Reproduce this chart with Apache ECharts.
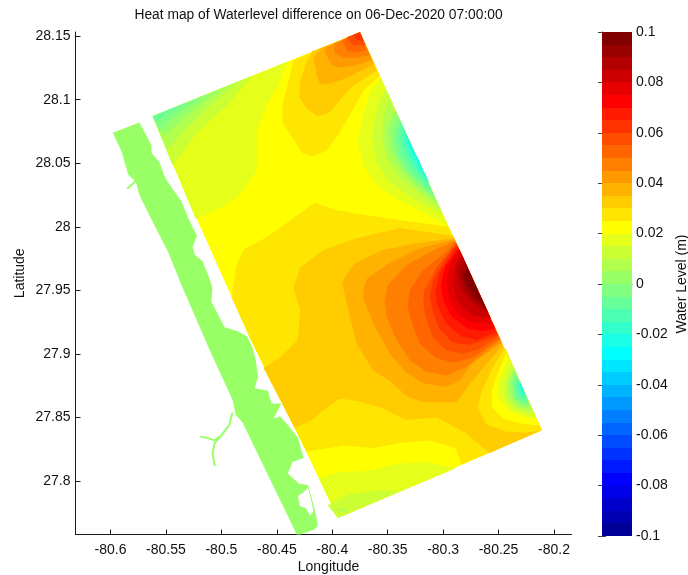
<!DOCTYPE html>
<html>
<head>
<meta charset="utf-8">
<style>html,body{margin:0;padding:0;background:#fff}#c{width:688px;height:575px}</style>
<script src="https://cdn.jsdelivr.net/npm/echarts@6/dist/echarts.min.js"></script>
</head>
<body>
<div id="c"></div>
<script>
// ---------- tick labels ----------
const lonTicks = [-80.6,-80.55,-80.5,-80.45,-80.4,-80.35,-80.3,-80.25,-80.2];
const latTicks = [27.8,27.85,27.9,27.95,28,28.05,28.1,28.15];
const barTicks = [-0.1,-0.08,-0.06,-0.04,-0.02,0,0.02,0.04,0.06,0.08,0.1];

// ---------- colour scale: one colour per 0.005 m band, from -0.1 upward ----------
const bandColors = ['#000099','#0000b3','#0000cc','#0000e6','#0000ff','#001aff','#0033ff','#004dff','#0066ff','#0080ff',
 '#0099ff','#00b3ff','#00ccff','#00e6ff','#00ffff','#1affe6','#33ffcc','#4dffb3','#66ff99','#80ff80',
 '#99ff66','#b3ff4d','#ccff33','#e6ff1a','#ffff00','#ffe600','#ffcc00','#ffb300','#ff9900','#ff8000',
 '#ff6600','#ff4d00','#ff3300','#ff1a00','#ff0000','#e60000','#cc0000','#b30000','#990000','#800000'];
const bandStarts = bandColors.map((c, i) => -0.1 + i * 0.005);

// ---------- water level regions: [band floor in m, [lon,lat]...] ----------
const domain = [
 [0.02, [[-80.562,28.087],[-80.375,28.153],[-80.211,27.840],[-80.395,27.771],[-80.423,27.822],[-80.474,27.912],[-80.519,28.000]]]
];
const coolNorthWest = [
 [0.015, [[-80.562,28.087],[-80.440,28.130],[-80.449,28.111],[-80.459,28.096],[-80.467,28.078],[-80.467,28.046],[-80.483,28.025],[-80.501,28.015],[-80.523,28.006]]],
 [0.01,  [[-80.562,28.087],[-80.472,28.119],[-80.493,28.097],[-80.522,28.074],[-80.544,28.048]]],
 [0.005, [[-80.562,28.087],[-80.483,28.115],[-80.504,28.100],[-80.531,28.078],[-80.549,28.060]]],
 [0,     [[-80.562,28.087],[-80.498,28.109],[-80.519,28.096],[-80.540,28.080],[-80.553,28.071]]],
 [-0.005,[[-80.562,28.087],[-80.513,28.104],[-80.531,28.094],[-80.549,28.082],[-80.556,28.076]]],
 [-0.01, [[-80.562,28.087],[-80.531,28.098],[-80.549,28.089],[-80.559,28.083]]]
];
const warmNorth = [
 [0.025,[[-80.375,28.153],[-80.435,28.131],[-80.438,28.119],[-80.445,28.096],[-80.445,28.082],[-80.436,28.070],[-80.427,28.058],[-80.418,28.055],[-80.405,28.060],[-80.395,28.072],[-80.384,28.088],[-80.372,28.107],[-80.357,28.119]]],
 [0.03, [[-80.375,28.153],[-80.418,28.138],[-80.423,28.130],[-80.429,28.114],[-80.430,28.102],[-80.423,28.093],[-80.413,28.087],[-80.402,28.090],[-80.393,28.100],[-80.381,28.111],[-80.360,28.123]]],
 [0.035,[[-80.375,28.153],[-80.410,28.140],[-80.417,28.133],[-80.414,28.119],[-80.411,28.112],[-80.400,28.113],[-80.384,28.118],[-80.369,28.125],[-80.362,28.128]]],
 [0.04, [[-80.375,28.153],[-80.406,28.141],[-80.407,28.137],[-80.400,28.127],[-80.393,28.125],[-80.378,28.127],[-80.364,28.131]]],
 [0.045,[[-80.375,28.153],[-80.398,28.144],[-80.398,28.137],[-80.390,28.133],[-80.378,28.133],[-80.366,28.135]]],
 [0.05, [[-80.375,28.153],[-80.391,28.147],[-80.387,28.139],[-80.378,28.137],[-80.369,28.139]]],
 [0.055,[[-80.375,28.153],[-80.387,28.149],[-80.382,28.143],[-80.370,28.143]]],
 [0.06, [[-80.375,28.153],[-80.381,28.151],[-80.378,28.147],[-80.372,28.146]]]
];
const coolEast = [
 [0.015, [[-80.356,28.117],[-80.366,28.106],[-80.373,28.085],[-80.377,28.067],[-80.372,28.048],[-80.360,28.033],[-80.342,28.022],[-80.318,28.011],[-80.296,28.001]]],
 [0.01,  [[-80.352,28.109],[-80.360,28.093],[-80.364,28.070],[-80.360,28.051],[-80.348,28.035],[-80.327,28.022],[-80.300,28.009]]],
 [0.005, [[-80.349,28.101],[-80.354,28.085],[-80.355,28.070],[-80.351,28.054],[-80.339,28.039],[-80.321,28.026],[-80.302,28.013]]],
 [0,     [[-80.343,28.092],[-80.350,28.078],[-80.349,28.062],[-80.339,28.046],[-80.321,28.030],[-80.305,28.019]]],
 [-0.005,[[-80.341,28.088],[-80.346,28.072],[-80.343,28.058],[-80.334,28.044],[-80.320,28.032],[-80.307,28.022]]],
 [-0.01, [[-80.339,28.084],[-80.342,28.070],[-80.339,28.058],[-80.330,28.044],[-80.319,28.035],[-80.309,28.025]]],
 [-0.015,[[-80.337,28.080],[-80.338,28.070],[-80.334,28.058],[-80.326,28.046],[-80.317,28.036],[-80.311,28.030]]],
 [-0.02, [[-80.335,28.076],[-80.334,28.067],[-80.330,28.057],[-80.323,28.046],[-80.312,28.034]]],
 [-0.025,[[-80.333,28.072],[-80.331,28.064],[-80.326,28.056],[-80.320,28.047],[-80.315,28.038]]],
 [-0.03, [[-80.331,28.068],[-80.327,28.060],[-80.322,28.053],[-80.317,28.042]]]
];
const warmCentre = [
 [0.025,[[-80.491,27.945],[-80.486,27.971],[-80.480,27.982],[-80.459,27.992],[-80.438,28.005],[-80.416,28.019],[-80.396,28.013],[-80.369,28.009],[-80.336,28.005],[-80.295,28.000],[-80.211,27.840],[-80.283,27.813],[-80.289,27.826],[-80.312,27.832],[-80.339,27.830],[-80.363,27.826],[-80.390,27.828],[-80.423,27.823],[-80.474,27.912]]],
 [0.03, [[-80.462,27.889],[-80.447,27.897],[-80.431,27.911],[-80.429,27.934],[-80.435,27.952],[-80.429,27.968],[-80.408,27.982],[-80.378,27.991],[-80.339,27.999],[-80.291,27.993],[-80.211,27.840],[-80.258,27.822],[-80.280,27.838],[-80.306,27.850],[-80.333,27.848],[-80.357,27.858],[-80.378,27.863],[-80.393,27.865],[-80.408,27.856],[-80.418,27.848],[-80.434,27.842]]],
 [0.035,[[-80.290,27.991],[-80.324,27.987],[-80.354,27.982],[-80.380,27.971],[-80.387,27.963],[-80.391,27.956],[-80.387,27.940],[-80.378,27.908],[-80.363,27.887],[-80.348,27.879],[-80.333,27.867],[-80.318,27.862],[-80.288,27.862],[-80.278,27.874],[-80.262,27.891],[-80.246,27.907]]],
 [0.04, [[-80.290,27.990],[-80.321,27.983],[-80.348,27.972],[-80.369,27.959],[-80.372,27.950],[-80.372,27.944],[-80.363,27.924],[-80.348,27.900],[-80.333,27.885],[-80.318,27.877],[-80.297,27.874],[-80.285,27.879],[-80.273,27.893],[-80.247,27.909]]],
 [0.045,[[-80.289,27.989],[-80.312,27.980],[-80.333,27.970],[-80.350,27.954],[-80.353,27.941],[-80.351,27.929],[-80.342,27.911],[-80.330,27.895],[-80.315,27.886],[-80.297,27.883],[-80.279,27.890],[-80.248,27.911]]],
 [0.05, [[-80.289,27.988],[-80.303,27.976],[-80.318,27.966],[-80.330,27.950],[-80.332,27.937],[-80.328,27.924],[-80.321,27.908],[-80.307,27.897],[-80.291,27.893],[-80.273,27.897],[-80.249,27.912]]],
 [0.055,[[-80.288,27.987],[-80.306,27.968],[-80.317,27.950],[-80.318,27.940],[-80.316,27.929],[-80.309,27.913],[-80.297,27.903],[-80.282,27.900],[-80.267,27.904],[-80.250,27.914]]],
 [0.06, [[-80.288,27.986],[-80.300,27.972],[-80.309,27.958],[-80.312,27.945],[-80.309,27.932],[-80.303,27.919],[-80.291,27.909],[-80.276,27.907],[-80.251,27.915]]],
 [0.065,[[-80.287,27.985],[-80.303,27.964],[-80.307,27.950],[-80.305,27.937],[-80.297,27.924],[-80.284,27.914],[-80.270,27.911],[-80.252,27.917]]],
 [0.07, [[-80.286,27.983],[-80.298,27.969],[-80.302,27.954],[-80.300,27.942],[-80.292,27.929],[-80.278,27.920],[-80.265,27.918],[-80.253,27.920]]],
 [0.075,[[-80.285,27.982],[-80.294,27.970],[-80.297,27.956],[-80.294,27.942],[-80.287,27.932],[-80.276,27.925],[-80.256,27.924]]],
 [0.08, [[-80.284,27.980],[-80.289,27.970],[-80.291,27.956],[-80.288,27.945],[-80.282,27.936],[-80.273,27.930],[-80.257,27.928]]],
 [0.085,[[-80.282,27.976],[-80.287,27.966],[-80.285,27.954],[-80.279,27.945],[-80.271,27.938],[-80.259,27.932]]],
 [0.09, [[-80.280,27.972],[-80.284,27.964],[-80.281,27.954],[-80.275,27.945],[-80.261,27.935]]],
 [0.095,[[-80.278,27.967],[-80.281,27.962],[-80.278,27.954],[-80.271,27.946],[-80.262,27.937]]]
];
const patchSouthEast = [
 [0.025,[[-80.244,27.905],[-80.255,27.890],[-80.265,27.871],[-80.269,27.858],[-80.261,27.845],[-80.244,27.839],[-80.226,27.838],[-80.211,27.840]]],
 [0.02, [[-80.243,27.901],[-80.252,27.882],[-80.256,27.871],[-80.256,27.858],[-80.246,27.849],[-80.228,27.845],[-80.213,27.844]]],
 [0.015,[[-80.241,27.898],[-80.251,27.877],[-80.251,27.866],[-80.242,27.856],[-80.226,27.850],[-80.216,27.849]]],
 [0.01, [[-80.239,27.893],[-80.245,27.877],[-80.245,27.866],[-80.238,27.857],[-80.225,27.853],[-80.217,27.852]]],
 [0.005,[[-80.237,27.890],[-80.243,27.877],[-80.242,27.866],[-80.233,27.857],[-80.219,27.855]]],
 [0,    [[-80.236,27.888],[-80.240,27.877],[-80.239,27.866],[-80.230,27.858],[-80.221,27.858]]],
 [-0.005,[[-80.235,27.886],[-80.238,27.877],[-80.236,27.866],[-80.228,27.860],[-80.222,27.860]]],
 [-0.01,[[-80.234,27.883],[-80.236,27.877],[-80.233,27.866],[-80.226,27.861],[-80.223,27.861]]],
 [-0.015,[[-80.233,27.881],[-80.234,27.875],[-80.231,27.866],[-80.224,27.865]]],
 [-0.02,[[-80.231,27.879],[-80.232,27.874],[-80.229,27.869],[-80.225,27.867]]],
 [-0.025,[[-80.230,27.877],[-80.230,27.873],[-80.227,27.871]]]
];
const coolSouth = [
 [0.015,[[-80.395,27.771],[-80.412,27.802],[-80.396,27.807],[-80.369,27.808],[-80.339,27.814],[-80.312,27.815],[-80.289,27.810]]],
 [0.01, [[-80.395,27.771],[-80.404,27.781],[-80.384,27.790],[-80.354,27.793],[-80.339,27.792]]],
 [0.005,[[-80.399,27.778],[-80.389,27.779],[-80.385,27.775]]]
];
// ---------- land ----------
const landColor = '#99ff66';
const landOutline = [[-80.598,28.074],[-80.574,28.082],[-80.569,28.074],[-80.563,28.064],[-80.563,28.058],[-80.556,28.051],[-80.551,28.039],[-80.545,28.031],[-80.536,28.020],[-80.530,28.007],[-80.522,27.993],[-80.526,27.984],[-80.524,27.978],[-80.517,27.973],[-80.512,27.962],[-80.508,27.952],[-80.509,27.941],[-80.503,27.931],[-80.497,27.921],[-80.486,27.918],[-80.477,27.914],[-80.472,27.905],[-80.469,27.895],[-80.467,27.882],[-80.470,27.873],[-80.458,27.871],[-80.455,27.861],[-80.446,27.861],[-80.453,27.849],[-80.447,27.851],[-80.438,27.842],[-80.431,27.834],[-80.427,27.822],[-80.426,27.818],[-80.436,27.815],[-80.440,27.806],[-80.430,27.798],[-80.422,27.797],[-80.418,27.785],[-80.415,27.775],[-80.413,27.765],[-80.416,27.762],[-80.429,27.758],[-80.432,27.758],[-80.481,27.846],[-80.487,27.852],[-80.490,27.864],[-80.509,27.900],[-80.535,27.952],[-80.548,27.980],[-80.565,28.009],[-80.574,28.025],[-80.577,28.035],[-80.584,28.041],[-80.590,28.059]];
const lagoon = [[-80.431,27.788],[-80.426,27.791],[-80.422,27.795],[-80.419,27.785],[-80.417,27.776],[-80.420,27.773],[-80.424,27.779],[-80.429,27.780]];
const creek = [[-80.585,28.030],[-80.577,28.036]];
const riverWest = [[-80.490,27.854],[-80.493,27.844],[-80.500,27.836],[-80.506,27.832],[-80.513,27.834],[-80.519,27.835]];
const riverSouth = [[-80.500,27.836],[-80.506,27.830],[-80.508,27.822],[-80.506,27.812]];

const regions = [].concat(domain, coolNorthWest, warmNorth, coolEast, warmCentre, patchSouthEast, coolSouth);
const bandColor = v => bandColors[Math.round((v + 0.1) / 0.005)];

const lineDark = '#1a1a1a';
const font = '"Liberation Sans", Arial, sans-serif';
const drawPolygon = (pts, fill) => (params, api) => ({
  type: 'polygon',
  shape: { points: pts.map(p => api.coord(p)) },
  style: { fill: fill }
});
const riverSeries = d => ({
  type: 'line', xAxisIndex: 0, yAxisIndex: 0, data: d, symbol: 'none', silent: true,
  lineStyle: { color: landColor, width: 2 }, z: 3
});

const chart = echarts.init(document.getElementById('c'), null, { renderer: 'canvas' });
chart.setOption({
  animation: false,
  backgroundColor: '#fff',
  title: {
    text: 'Heat map of Waterlevel difference on 06-Dec-2020 07:00:00',
    left: 313.5, top: 3, textAlign: 'center',
    textStyle: { fontFamily: font, fontSize: 13.8, fontWeight: 'normal', color: '#111' }
  },
  grid: [
    { left: 75.5, top: 32, width: 496, height: 502.5, outerBoundsMode: 'none' },
    { left: 602, top: 32, width: 30, height: 504, outerBoundsMode: 'none' }
  ],
  xAxis: [
    { type: 'value', gridIndex: 0, min: -80.6316, max: -80.1842, splitLine: { show: false },
      name: 'Longitude', nameLocation: 'middle', nameGap: 26, nameMoveOverlap: false,
      nameTextStyle: { fontFamily: font, fontSize: 14, color: '#111', padding: [0, 0, 0, 10] },
      axisLine: { lineStyle: { color: lineDark } },
      axisTick: { inside: true, length: 5, customValues: lonTicks, lineStyle: { color: lineDark } },
      axisLabel: { customValues: lonTicks, margin: 9, fontFamily: font, fontSize: 14, color: '#111' } },
    { type: 'value', gridIndex: 1, min: 0, max: 1, position: 'bottom', show: true,
      axisLine: { lineStyle: { color: '#888' } }, axisTick: { show: false }, axisLabel: { show: false }, splitLine: { show: false } },
    { type: 'value', gridIndex: 1, min: 0, max: 1, position: 'top', show: true,
      axisLine: { lineStyle: { color: '#888' } }, axisTick: { show: false }, axisLabel: { show: false }, splitLine: { show: false } }
  ],
  yAxis: [
    { type: 'value', gridIndex: 0, min: 27.758, max: 28.1532, splitLine: { show: false },
      name: 'Latitude', nameLocation: 'middle', nameGap: 48, nameMoveOverlap: false,
      nameTextStyle: { fontFamily: font, fontSize: 14, color: '#111', padding: [0, 0, 0, 20] },
      axisLine: { lineStyle: { color: lineDark } },
      axisTick: { inside: true, length: 5, customValues: latTicks, lineStyle: { color: lineDark } },
      axisLabel: { customValues: latTicks, margin: 5, fontFamily: font, fontSize: 14, color: '#111' } },
    { type: 'value', gridIndex: 1, min: -0.1, max: 0.1, position: 'right', splitLine: { show: false },
      name: 'Water Level (m)', nameLocation: 'middle', nameGap: 43, nameRotate: 90, nameMoveOverlap: false,
      nameTextStyle: { fontFamily: font, fontSize: 14, color: '#111' },
      axisLine: { show: true, lineStyle: { color: '#888' } },
      axisTick: { inside: true, length: 4, customValues: barTicks, lineStyle: { color: '#444' } },
      axisLabel: { customValues: barTicks, margin: 4, fontFamily: font, fontSize: 14, color: '#111' } },
    { type: 'value', gridIndex: 1, min: -0.1, max: 0.1, position: 'left', splitLine: { show: false },
      axisLine: { show: true, lineStyle: { color: '#888' } },
      axisTick: { inside: true, length: 4, customValues: barTicks, lineStyle: { color: '#444' } },
      axisLabel: { show: false } }
  ],
  series: [
    { type: 'custom', xAxisIndex: 0, yAxisIndex: 0, silent: true, z: 2, encode: { x: -1, y: -1 },
      data: regions.map((r, i) => [i, r[0]]),
      renderItem: (params, api) => {
        const r = regions[api.value(0)];
        return drawPolygon(r[1], bandColor(r[0]))(params, api);
      } },
    { type: 'custom', xAxisIndex: 0, yAxisIndex: 0, silent: true, z: 3, encode: { x: -1, y: -1 },
      data: [[0]], renderItem: drawPolygon(landOutline, landColor) },
    { type: 'custom', xAxisIndex: 0, yAxisIndex: 0, silent: true, z: 4, encode: { x: -1, y: -1 },
      data: [[0]], renderItem: drawPolygon(lagoon, '#ffffff') },
    riverSeries(creek), riverSeries(riverWest), riverSeries(riverSouth),
    { type: 'custom', xAxisIndex: 1, yAxisIndex: 1, silent: true, z: 1, encode: { x: -1, y: 0 },
      data: bandStarts.map(v => [v]),
      renderItem: (params, api) => {
        const v = api.value(0);
        const a = api.coord([0, v]);
        const b = api.coord([1, v + 0.005]);
        const top = Math.round(b[1]);
        const bottom = Math.round(a[1]);
        return { type: 'rect', shape: { x: a[0], y: top, width: b[0] - a[0], height: bottom - top },
                 style: { fill: bandColor(v) } };
      } }
  ]
});
</script>
</body>
</html>
